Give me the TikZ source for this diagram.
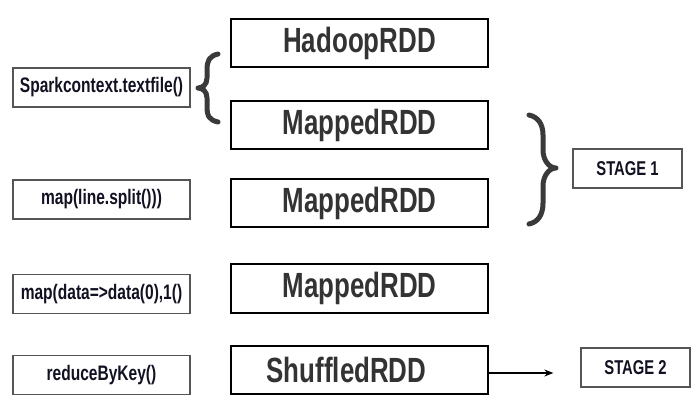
\documentclass[tikz,border=0pt]{standalone}
\usepackage{fontspec}
\setmainfont{Liberation Sans}[FakeStretch=0.74]
\usetikzlibrary{arrows.meta}
\definecolor{rddtext}{HTML}{333333}
\definecolor{bracecol}{HTML}{3A3A3A}
\definecolor{thinline}{HTML}{555555}
\definecolor{smalltext}{HTML}{111122}
\tikzset{
  rdd/.style={draw=black, line width=2pt, minimum width=257pt, minimum height=48pt, inner sep=0pt,
    text=rddtext, font=\fontsize{35}{38}\selectfont\bfseries},
  opbox/.style={draw=thinline, line width=1.3pt, minimum width=177pt, minimum height=39pt, inner sep=0pt,
    text=smalltext, font=\fontsize{21}{24}\selectfont\bfseries},
  stagebox/.style={draw=thinline, line width=1.3pt, minimum width=109pt, minimum height=39pt, inner sep=0pt,
    text=smalltext, font=\fontsize{20}{23}\selectfont\bfseries},
  curly/.style={draw=bracecol, line width=5pt, line cap=round, line join=round},
}
\begin{document}
\begin{tikzpicture}[x=1pt,y=-1pt]
\useasboundingbox (0,0) rectangle (700,413);
% RDD boxes
\node[rdd] (hadoop) at (359.5,43) {HadoopRDD};
\node[rdd] (m1) at (359.5,125) {MappedRDD};
\node[rdd] (m2) at (359.5,203) {MappedRDD};
\node[rdd, minimum height=49pt] (m3) at (359.5,288.5) {MappedRDD};
\node[rdd] (shuf) at (359.5,370) {ShuffledRDD\hspace*{26pt}};
% operation boxes
\node[opbox] (op1) at (101.5,87.5) {Sparkcontext.textfile()};
\node[opbox] (op2) at (101.5,199.5) {map(line.split()))};
\node[opbox] (op3) at (101.5,294) {map(data=>data(0),1()};
\node[opbox] (op4) at (101.5,375) {reduceByKey()};
% stages
\node[stagebox] (st1) at (627.5,168.5) {STAGE 1};
\node[stagebox] (st2) at (635.5,367.5) {STAGE 2};
% braces
\draw[curly] (218,54) .. controls (209,56) and (207,61) .. (207,70) -- (207,78)
  .. controls (207,85) and (202,88) .. (198,88) .. controls (202,88) and (207,91) .. (207,98)
  -- (207,106) .. controls (207,116) and (209,120) .. (218,122);
\draw[curly] (529,115) .. controls (538,117) and (543,124) .. (543,135) -- (543,150)
  .. controls (543,160) and (549,168) .. (556,168) .. controls (549,168) and (543,176) .. (543,186)
  -- (543,203) .. controls (543,215) and (538,222) .. (529,224);
% arrow
\draw[line width=1.3pt, -{Stealth[length=9pt,width=7pt]}, shorten >=27pt]
  ([yshift=-3pt]shuf.east) -- ([yshift=-3pt]shuf.east -| st2.west);
\end{tikzpicture}
\end{document}
